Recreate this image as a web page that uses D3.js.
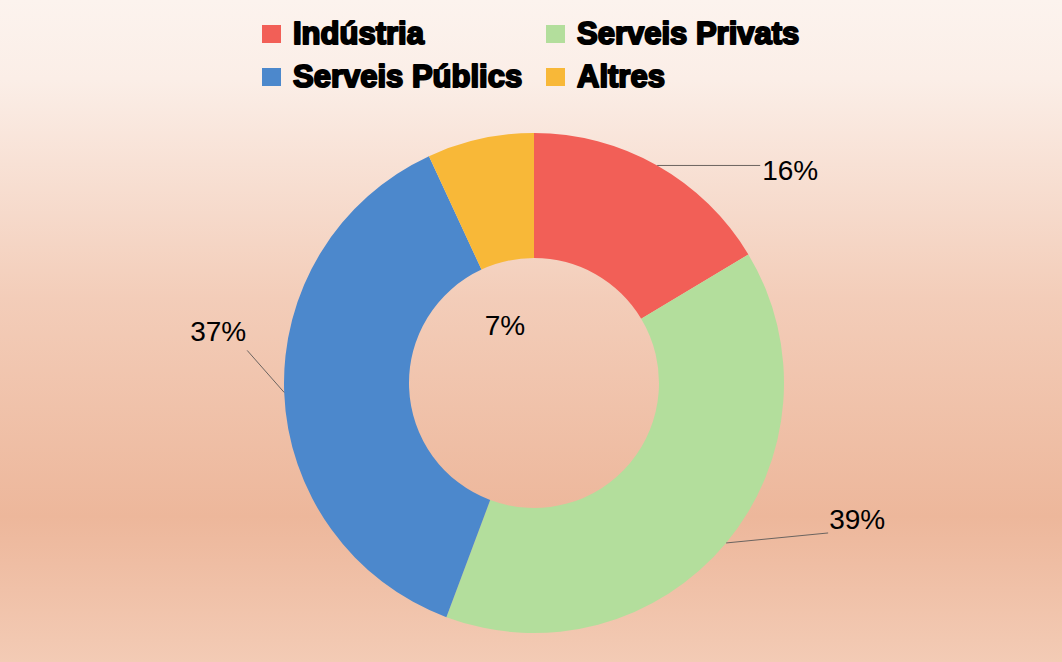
<!DOCTYPE html>
<html lang="ca">
<head>
<meta charset="UTF-8">
<title>Donut</title>
<style>
  body { margin: 0; padding: 0; overflow: hidden; }
  svg { display: block; }
</style>
</head>
<body>
<svg id="chart" width="1062" height="662"></svg>
<script src="https://cdnjs.cloudflare.com/ajax/libs/d3/7.8.5/d3.min.js"></script>
<script>
// dades
const categories = ["Indústria", "Serveis Privats", "Serveis Públics", "Altres"];
const values = [16.4, 39.3, 37.4, 6.9];
const colors = ["#f25f57", "#b3de9c", "#4c88cc", "#f8b838"];

const width = 1062, height = 662;
const svg = d3.select("#chart");

// fons degradat
const defs = svg.append("defs");
const grad = defs.append("linearGradient")
    .attr("id", "bg").attr("x1", 0).attr("y1", 0).attr("x2", 0).attr("y2", 1);
grad.append("stop").attr("offset", "0%").attr("stop-color", "#fcf3ee");
grad.append("stop").attr("offset", "12%").attr("stop-color", "#fbeee7");
grad.append("stop").attr("offset", "45%").attr("stop-color", "#f3cdb9");
grad.append("stop").attr("offset", "78%").attr("stop-color", "#edb79b");
grad.append("stop").attr("offset", "100%").attr("stop-color", "#f3cbb5");
svg.append("rect").attr("width", width).attr("height", height).attr("fill", "url(#bg)");

// donut
const cx = 534, cy = 383, outerR = 250, innerR = 125;
const pie = d3.pie().sort(null).value(d => d);
const arc = d3.arc().innerRadius(innerR).outerRadius(outerR);
const arcs = pie(values);

const g = svg.append("g").attr("transform", `translate(${cx},${cy})`);
g.selectAll("path")
    .data(arcs)
    .enter().append("path")
    .attr("d", arc)
    .attr("fill", (d, i) => colors[i]);

// etiquetes amb línies guia
const labelLayout = [
    { dx: 103, dy: 0, tx: 105, ty: 15, anchor: "start" },
    { dx: 102, dy: -10, tx: 103, ty: -14, anchor: "start" },
    { dx: -37, dy: -42, tx: -38, ty: -51, anchor: "end" },
    null
];

arcs.forEach((d, i) => {
    const mid = (d.startAngle + d.endAngle) / 2;
    const label = Math.round(d.value) + "%";
    const L = labelLayout[i];
    if (L) {
        const px = outerR * Math.sin(mid), py = -outerR * Math.cos(mid);
        g.append("line")
            .attr("x1", px).attr("y1", py)
            .attr("x2", px + L.dx).attr("y2", py + L.dy)
            .attr("stroke", "#6b6460").attr("stroke-width", 1);
        g.append("text")
            .attr("x", px + L.tx).attr("y", py + L.ty)
            .attr("text-anchor", L.anchor)
            .attr("font-family", "Liberation Sans, Arial, sans-serif")
            .attr("font-size", 28)
            .attr("fill", "#000")
            .text(label);
    } else {
        // petita porció: etiqueta dins el forat
        g.append("text")
            .attr("x", -29).attr("y", -48)
            .attr("text-anchor", "middle")
            .attr("font-family", "Liberation Sans, Arial, sans-serif")
            .attr("font-size", 28)
            .attr("fill", "#000")
            .text(label);
    }
});

// llegenda
const legendX = [262, 546], legendY = [25, 68];
const legend = svg.append("g");
categories.forEach((c, i) => {
    const col = i % 2, row = Math.floor(i / 2);
    legend.append("rect")
        .attr("x", legendX[col]).attr("y", legendY[row])
        .attr("width", 19).attr("height", 18)
        .attr("fill", colors[i]);
    legend.append("text")
        .attr("x", legendX[col] + 31).attr("y", legendY[row] + 19)
        .attr("font-family", "Liberation Sans, Arial, sans-serif")
        .attr("font-weight", "bold")
        .attr("font-size", 31)
        .attr("fill", "#000")
        .attr("stroke", "#000")
        .attr("stroke-width", 2)
        .attr("stroke-linejoin", "round")
        .text(c);
});
</script>
</body>
</html>
